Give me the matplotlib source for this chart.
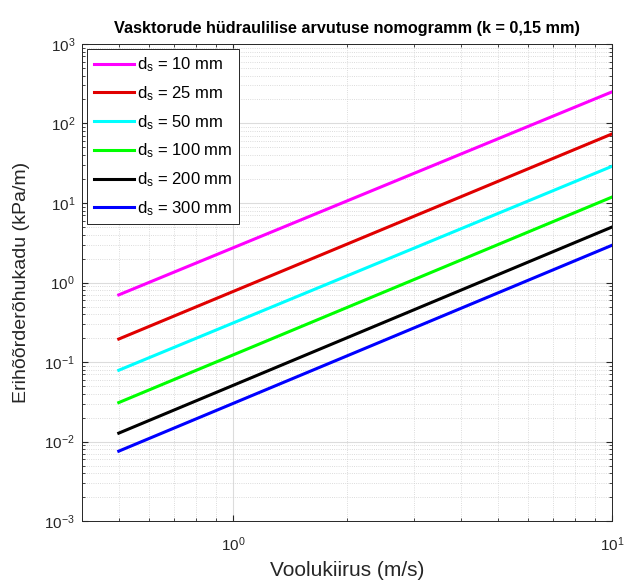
import numpy as np
import matplotlib.pyplot as plt
from matplotlib.ticker import LogLocator, NullFormatter

plt.rcParams['font.family'] = ['Liberation Sans', 'DejaVu Sans']
plt.rcParams['mathtext.fontset'] = 'custom'
plt.rcParams['mathtext.rm'] = 'Liberation Sans'
plt.rcParams['mathtext.it'] = 'Liberation Sans'
plt.rcParams['mathtext.bf'] = 'Liberation Sans:bold'

# Voolukiirus (m/s) - joonte algus- ja lõpp-punkt
v = [0.5, 10]

# Erihõõrderõhukadu (kPa/m), loetud jooniselt
diameetrid = [10, 25, 50, 100, 200, 300]
kadu = [
    [0.70, 250],
    [0.195, 74],
    [0.079, 29],
    [0.031, 11.9],
    [0.0128, 5.0],
    [0.0076, 2.95],
]
varvid = ['#FF00FF', '#E00000', '#00FFFF', '#00FF00', '#000000', '#0000FF']

fig = plt.figure(figsize=(6.26, 5.85), dpi=100)
ax = fig.add_axes([0.131, 0.109, 0.847, 0.816])

for d, y, c in zip(diameetrid, kadu, varvid):
    ax.loglog(v, y, color=c, linewidth=2.2, label=r'$\mathregular{d_s}$ = %d mm' % d)

ax.set_xlim(0.4, 10)
ax.set_ylim(1e-3, 1e3)
ax.xaxis.set_minor_formatter(NullFormatter())
ax.yaxis.set_major_locator(LogLocator(base=10, numticks=10))
ax.yaxis.set_minor_locator(LogLocator(base=10, subs=np.arange(2, 10), numticks=20))
ax.yaxis.set_minor_formatter(NullFormatter())

txt = '#262626'
ax.grid(True, which='major', color='#dcdcdc', linestyle='-', linewidth=0.8)
ax.grid(True, which='minor', color='#d0d0d0', linestyle=':', linewidth=0.6)
ax.set_axisbelow(True)
ax.tick_params(which='both', direction='in', top=True, right=True, colors=txt, labelsize=11)
ax.tick_params(which='major', length=4)
ax.tick_params(which='minor', length=2.5)
ax.tick_params(axis='x', which='major', pad=10)
ax.tick_params(axis='y', which='major', pad=5)
for s in ax.spines.values():
    s.set_color(txt)
    s.set_linewidth(0.7)

ax.set_xlabel('Voolukiirus (m/s)', fontsize=15, color=txt, labelpad=5)
ax.set_ylabel('Erihõõrderõhukadu (kPa/m)', fontsize=14, color=txt, labelpad=10)
ax.set_title('Vasktorude hüdraulilise arvutuse nomogramm (k = 0,15 mm)',
             fontsize=11.7, fontweight='bold', color='black', pad=8)

leg = ax.legend(loc='upper left', fontsize=12, handlelength=2.4, handletextpad=0.2,
                borderaxespad=0.3, labelspacing=0.6, fancybox=False, framealpha=1,
                edgecolor=txt)
leg.get_frame().set_linewidth(0.7)

plt.savefig('out.png', dpi=100)
